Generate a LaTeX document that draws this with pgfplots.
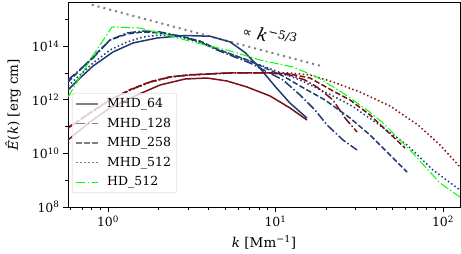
\documentclass[border=0pt]{standalone}
\usepackage{fontspec}
\setmainfont{DejaVu Serif}
\newfontfamily\djs{DejaVu Sans}
\usepackage{pgfplots}
\pgfplotsset{compat=1.18}
\definecolor{cblue}{RGB}{30,60,115}
\definecolor{cred}{RGB}{120,15,25}
\definecolor{cgreen}{RGB}{0,255,0}
\definecolor{cgray}{RGB}{128,128,128}
\tikzset{
  sdash/.style={dash pattern=on 5.5pt off 2.4pt},
  sdashdot/.style={dash pattern=on 9pt off 2.4pt on 1.5pt off 2.4pt},
  sdot/.style={dash pattern=on 1.5pt off 2.5pt},
}
\begin{document}
\begin{tikzpicture}
\begin{axis}[
  xmode=log, ymode=log,
  scale only axis, width=392pt, height=205pt,
  xmin=0.577, xmax=126.3, ymin=1e8, ymax=4.46e15,
  xtick={1,10,100},
  xticklabels={10\textsuperscript{0},10\textsuperscript{1},10\textsuperscript{2}},
  minor xtick={0.6,0.7,0.8,0.9,2,3,4,5,6,7,8,9,20,30,40,50,60,70,80,90},
  ytick={1e8,1e10,1e12,1e14},
  yticklabels={10\textsuperscript{8},10\textsuperscript{10},10\textsuperscript{12},10\textsuperscript{14}},
  minor ytick={1e9,1e11,1e13,1e15},
  tick pos=left, tick align=outside,
  major tick length=5pt, minor tick length=3pt,
  every tick/.style={black, line width=0.8pt},
  axis line style={black, line width=0.8pt},
  tick label style={font=\fontsize{12.5}{14}\selectfont},
  xlabel={{\itshape k} [Mm\textsuperscript{−1}]},
  ylabel={{\itshape Ê}({\itshape k}) [erg cm]},
  label style={font=\fontsize{13.5}{15}\selectfont},
  xlabel style={at={(axis description cs:0.5,-0.171)}, anchor=center},
  ylabel style={at={(axis description cs:-0.1403,0.5)}, anchor=center},
  legend style={at={(axis description cs:0.0102,0.556)}, anchor=north west,
    draw=black!20, fill=white, fill opacity=0.8, text opacity=1,
    rounded corners=2pt, font=\fontsize{12.5}{14}\selectfont,
    row sep=4.7pt, inner sep=3.5pt,
    /tikz/every odd column/.append style={column sep=6pt}},
  legend cell align=left,
  legend image code/.code={\draw[#1] (4pt,0pt) -- (26pt,0pt);},
]
\coordinate (sw) at (rel axis cs:0,0);
\coordinate (ne) at (rel axis cs:1,1);

% reference slope
\addplot[cgray, line width=2pt, dash pattern=on 2pt off 4pt, forget plot] coordinates {(0.8,3.5e15) (19.2,1.75e13)};
\node[rotate=-14, font=\fontsize{17}{20}\selectfont] at (axis cs:9.3,2.6e14) {{\djs\fontsize{13}{15}\selectfont ∝} {\itshape k}\textsuperscript{−5/3}};

% MHD_64 magnetic (red solid)
\addplot[cred, line width=1.5pt, forget plot] coordinates {
(0.577,3.16e10) (0.781,1.49e11) (1.028,4.94e11) (1.490,1.51e12) (2.044,3.56e12)
(2.883,5.97e12) (3.90,6.50e12) (5.13,5.03e12) (6.76,3.00e12) (9.272,1.39e12)
(12.21,4.94e11) (15.42,1.76e11)};
% MHD_64 kinetic (blue solid)
\addplot[cblue, line width=1.5pt, forget plot] coordinates {
(0.577,2.32e12) (0.681,6.50e12) (0.814,1.82e13) (1.071,6.08e13) (1.410,1.32e14)
(1.961,2.02e14) (2.883,2.50e14) (4.064,2.35e14) (5.351,1.45e14) (6.58,5.8e13)
(8.081,1.5e13) (9.93,3.2e12) (12.21,7.5e11) (15.42,2.09e11)};

% MHD_128 magnetic (red dashdot)
\addplot[cred, line width=1.5pt, sdashdot, forget plot] coordinates {
(0.577,8.87e10) (0.781,3.22e11) (1.028,9.84e11) (1.353,2.32e12) (1.781,4.61e12)
(2.345,7.09e12) (3.087,8.42e12) (4.064,9.18e12) (5.351,1.00e13) (7.044,1.00e13)
(9.272,1.00e13) (12.21,8.42e12) (15.0,5.48e12) (17.69,3.00e12) (22.04,9.84e11)
(26.0,2.09e11) (30.67,6.29e10)};
% MHD_128 kinetic (blue dashdot)
\addplot[cblue, line width=1.5pt, sdashdot, forget plot] coordinates {
(0.577,5.48e12) (0.814,3.63e13) (1.028,1.70e14) (1.298,3.11e14) (1.618,3.69e14)
(2.044,3.39e14) (2.691,2.40e14) (3.542,1.43e14) (4.474,7.21e13) (7.044,2.36e13)
(11.09,5.48e12) (14.01,1.51e12) (17.21,4.16e11) (20.30,1.15e11) (25.29,3.16e10)
(30.67,1.34e10)};

% MHD_258 magnetic (red dashed)
\addplot[cred, line width=1.5pt, sdash, forget plot] coordinates {
(0.577,9.3e10) (0.781,3.3e11) (1.028,1.0e12) (1.353,2.4e12) (1.781,4.7e12)
(2.345,7.2e12) (3.087,8.6e12) (4.064,9.3e12) (5.351,1.02e13) (7.044,1.02e13)
(9.272,1.0e13) (12.21,9.18e12) (16.07,6.50e12) (22.04,2.13e12) (27.85,9.84e11)
(36.66,2.71e11) (46.96,6.29e10) (59.32,1.59e10)};
% MHD_258 kinetic (blue dashed)
\addplot[cblue, line width=1.5pt, sdash, forget plot] coordinates {
(0.577,4.61e12) (0.814,3.96e13) (1.028,1.70e14) (1.298,2.85e14) (1.618,3.39e14)
(2.044,3.11e14) (2.691,2.40e14) (3.542,1.56e14) (4.474,7.87e13) (7.044,2.80e13)
(11.09,7.73e12) (14.01,3.27e12) (19.75,9.84e11) (27.85,2.09e11) (36.66,4.86e10)
(48.27,8.71e9) (60.97,2.02e9)};

% MHD_512 magnetic (red dotted)
\addplot[cred, line width=1.5pt, sdot, forget plot] coordinates {
(0.577,8.5e10) (0.781,3.1e11) (1.028,9.6e11) (1.353,2.25e12) (1.781,4.5e12)
(2.345,7.0e12) (3.087,8.4e12) (4.064,9.2e12) (5.351,1.0e13) (7.044,1.0e13)
(9.272,1.0e13) (12.21,1.0e13) (16.07,8.42e12) (22.04,4.61e12) (31.96,1.95e12)
(48.27,5.87e11) (70.93,1.15e11) (95.96,2.06e10) (126.3,3.11e9)};
% MHD_512 kinetic (blue dotted)
\addplot[cblue, line width=1.5pt, sdot, forget plot] coordinates {
(0.577,3.27e12) (0.814,2.36e13) (1.028,7.21e13) (1.298,1.43e14) (1.618,2.20e14)
(2.044,2.62e14) (2.691,2.20e14) (3.542,1.43e14) (4.474,7.87e13) (8.081,1.99e13)
(14.01,5.48e12) (22.04,1.39e12) (28.62,5.87e11) (39.27,1.49e11) (60.97,2.06e10)
(87.15,2.40e9) (126.3,4.30e8)};

% HD_512 (green dashdot)
\addplot[cgreen, line width=1pt, sdashdot, forget plot] coordinates {
(0.577,1.27e12) (0.781,3.06e13) (1.056,5.20e14) (1.553,4.77e14) (2.044,3.11e14)
(3.217,1.43e14) (5.13,7.21e13) (8.081,3.06e13) (12.72,1.67e13) (17.69,7.09e12)
(25.29,1.79e12) (35.18,4.16e11) (43.84,1.36e11) (63.5,1.34e10) (95.96,7.87e8)
(126.3,2.36e8)};

\addlegendimage{cgray, line width=1.5pt}
\addlegendentry{MHD\_64}
\addlegendimage{cgray, line width=1.5pt, sdashdot}
\addlegendentry{MHD\_128}
\addlegendimage{cgray, line width=1.5pt, sdash}
\addlegendentry{MHD\_258}
\addlegendimage{cgray, line width=1.5pt, sdot}
\addlegendentry{MHD\_512}
\addlegendimage{cgreen, line width=1pt, sdashdot}
\addlegendentry{HD\_512}
\end{axis}
\pgfresetboundingbox
\path[use as bounding box] ([shift={(-68pt,-47pt)}]sw) rectangle ([shift={(1pt,2pt)}]ne);
\end{tikzpicture}
\end{document}
